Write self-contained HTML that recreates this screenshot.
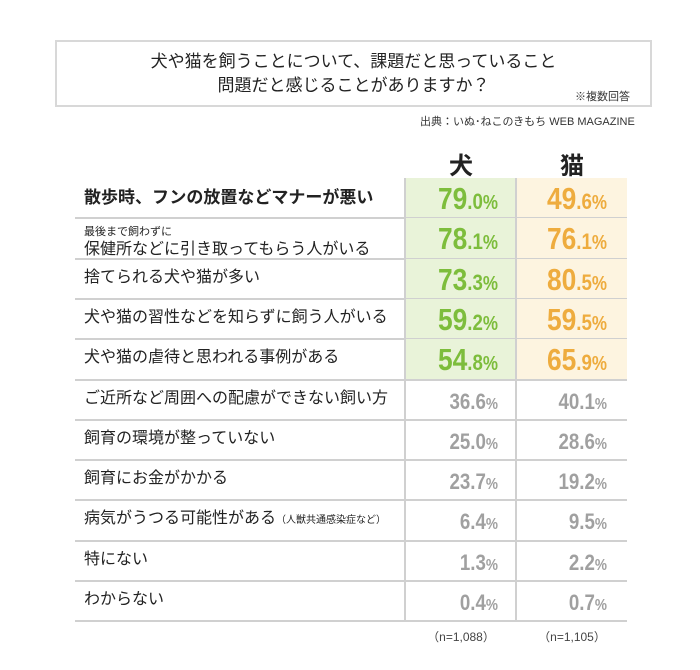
<!DOCTYPE html>
<html><head><meta charset="utf-8"><style>
body{margin:0;background:#fff;width:700px;height:670px;position:relative;overflow:hidden;font-family:"Liberation Sans","Noto Sans CJK JP",sans-serif;color:#222}
.abs{position:absolute}
.lbl{position:absolute;left:84px;font-size:16px;color:#222;line-height:1.15;white-space:nowrap}
.val{position:absolute;text-align:right;font-family:"Liberation Sans Narrow","Liberation Sans",sans-serif;font-weight:bold;white-space:nowrap;transform:scaleX(0.85);transform-origin:right center}
.hl{position:absolute;height:2px;background:#d0d0d0}
.vl{position:absolute;width:2px;background:#d0d0d0}
</style></head><body>
<div class="abs" style="left:55px;top:40px;width:593px;height:63px;border:2px solid #d8d8d8"></div>
<div class="abs" style="left:55px;top:50px;width:597px;text-align:center;font-size:17px;line-height:24px;color:#222">犬や猫を飼うことについて、課題だと思っていること<br>問題だと感じることがありますか？</div>
<div class="abs" style="left:575px;top:88px;font-size:11px;color:#333">※複数回答</div>
<div class="abs" style="left:420px;top:113px;font-size:11px;color:#333">出典：いぬ･ねこのきもち WEB MAGAZINE</div>
<div class="abs" style="left:405px;top:146px;width:112px;text-align:center;font-size:24px;font-weight:bold">犬</div>
<div class="abs" style="left:517px;top:146px;width:110px;text-align:center;font-size:24px;font-weight:bold">猫</div>
<div id="t"></div>
<div class="abs" style="left:405px;top:628px;width:112px;text-align:center;font-size:12px;color:#444">（n=1,088）</div>
<div class="abs" style="left:517px;top:628px;width:110px;text-align:center;font-size:12px;color:#444">（n=1,105）</div>
<script>
const categories=["散歩時、フンの放置などマナーが悪い","最後まで飼わずに|保健所などに引き取ってもらう人がいる","捨てられる犬や猫が多い","犬や猫の習性などを知らずに飼う人がいる","犬や猫の虐待と思われる事例がある","ご近所など周囲への配慮ができない飼い方","飼育の環境が整っていない","飼育にお金がかかる","病気がうつる可能性がある","特にない","わからない"];
const dogValues=[79.0,78.1,73.3,59.2,54.8,36.6,25.0,23.7,6.4,1.3,0.4];
const catValues=[49.6,76.1,80.5,59.5,65.9,40.1,28.6,19.2,9.5,2.2,0.7];
const highlighted=5;
const t=document.getElementById('t');
const top0=178,rh=40.3,L=75,X1=405,X2=516,R=627;
function add(cls,st,html){const d=document.createElement('div');d.className=cls;d.style.cssText=st;if(html!==undefined)d.innerHTML=html;t.appendChild(d);return d;}
function fmt(v,big){const s=v.toFixed(1).split('.');return big?`<span style="font-size:31px">${s[0]}</span><span style="font-size:22px">.${s[1]}</span><span style="font-size:20px">%</span>`:`<span style="font-size:22px">${s[0]}.${s[1]}</span><span style="font-size:16px">%</span>`;}
for(let i=0;i<categories.length;i++){
 const y=top0+i*rh;const big=i<highlighted;
 if(big){
  let c=add('abs',`left:${X1}px;top:${y}px;width:${X2-X1}px;height:${rh}px;background:#e9f3d9`);
  
  c=add('abs',`left:${X2}px;top:${y}px;width:${R-X2}px;height:${rh}px;background:#fdf4e0`);
  
 }
 let lab=categories[i];let html;
 if(lab.includes('|')){const p=lab.split('|');html=`<span style="font-size:11px">${p[0]}</span><br>${p[1]}`;}
 else if(i===8)html=lab+'<span style="font-size:10px">（人獣共通感染症など）</span>';
 else html=lab;
 const l=add('lbl',`top:${y+(lab.includes('|')?4:10)}px;${i===0?'font-weight:bold;font-size:17px;':''}`,html);
 
 const col=big?'#7dbd3c':'#a0a0a0',col2=big?'#eeac3e':'#a0a0a0';
 let v=add('val',`left:${X1}px;width:${X2-X1-18}px;top:${y+(big?3:9)}px;color:${col}`,fmt(dogValues[i],big));
 
 v=add('val',`left:${X2}px;width:${R-X2-20}px;top:${y+(big?3:9)}px;color:${col2}`,fmt(catValues[i],big));
 
 const h=add('hl',`left:${L}px;width:${R-L}px;top:${y+rh-1}px`);
 
}
const bottom=top0+categories.length*rh;
[X1,X2].forEach(x=>{const v=add('vl',`left:${x-1}px;top:${top0}px;height:${bottom-top0}px`);
});
</script>
</body></html>
